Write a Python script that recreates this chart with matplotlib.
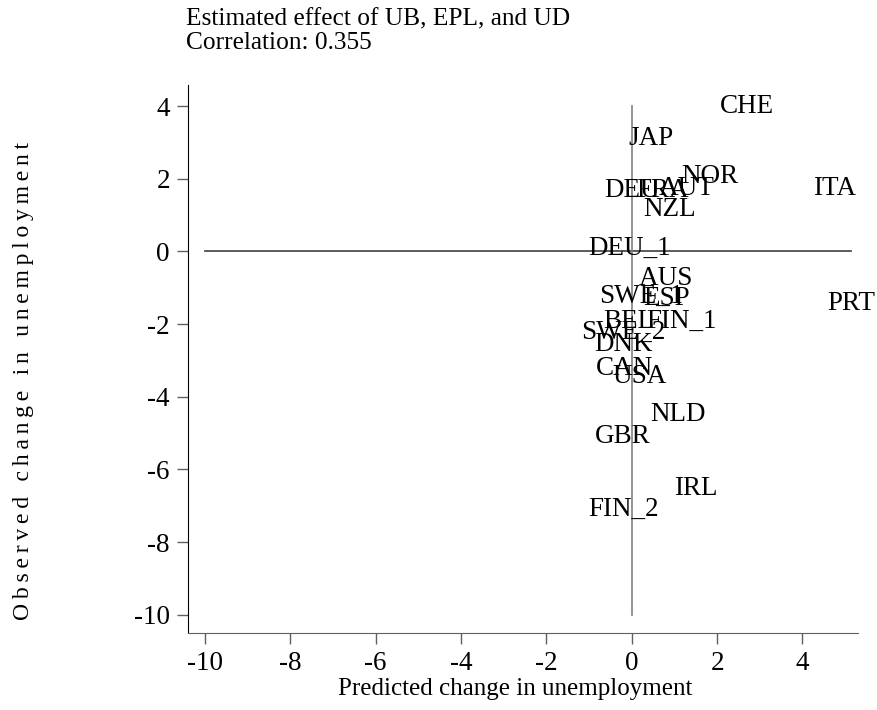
import numpy as np
import matplotlib.pyplot as plt

# ============================================
# DATOS
# ============================================
paises = ["CHE", "JAP", "NOR", "DEU", "FRA", "AUT", "ITA", "NZL", "DEU_1", "AUS",
          "SWE_1", "ESP", "PRT", "BEL", "FIN_1", "SWE_2", "DNK", "CAN", "USA",
          "NLD", "GBR", "IRL", "FIN_2"]
pred = [2.69, 0.46, 1.84, 0.0, 0.73, 1.28, 4.75, 0.89, -0.05, 0.81,
        0.22, 0.81, 5.15, -0.07, 1.17, -0.2, -0.2, -0.16, 0.19,
        1.08, -0.2, 1.5, -0.2]
obs = [4.0, 3.11, 2.05, 1.69, 1.69, 1.72, 1.74, 1.14, 0.085, -0.74,
       -1.25, -1.29, -1.43, -1.93, -1.93, -2.24, -2.57, -3.21, -3.45,
       -4.5, -5.1, -6.52, -7.11]

xticks = [-10, -8, -6, -4, -2, 0, 2, 4]
yticks = [-10, -8, -6, -4, -2, 0, 2, 4]

titulo = "Estimated effect of UB, EPL, and UD\nCorrelation: 0.355"
etiqueta_x = "Predicted change in unemployment"
etiqueta_y = "Observed change in unemployment"

# ============================================
# CONFIGURACIÓN
# ============================================
plt.rcParams['font.family'] = ['Liberation Serif', 'DejaVu Serif']
plt.rcParams['axes.unicode_minus'] = False

fig = plt.figure(figsize=(8.78, 7.10), dpi=100)
ax = fig.add_axes([0.2141, 0.1085, 0.763, 0.7718])

# líneas de referencia en cero
ax.plot([-10, max(pred)], [0, 0], color='#404040', linewidth=1.2)
ax.plot([0, 0], [-10, max(obs)], color='#808080', linewidth=1.2)

# etiquetas de los países
for p, x, y in zip(paises, pred, obs):
    ax.text(x, y, p, ha='center', va='center', fontsize=19.5, color='black')

ax.set_xlim(-10.4, 5.3)
ax.set_ylim(-10.5, 4.58)
ax.set_xticks(xticks)
ax.set_yticks(yticks)
ax.tick_params(axis='both', direction='out', length=8, width=1, color='#606060',
               labelsize=19.5, pad=5)

for s in ['top', 'right']:
    ax.spines[s].set_visible(False)
ax.spines['left'].set_color('black')
ax.spines['bottom'].set_color('#606060')

ax.set_xlabel(etiqueta_x, fontsize=18)
ax.xaxis.set_label_coords((515 - 188) / 670, -0.083)

# eje y con letras espaciadas
ax.set_ylabel("\u2009".join(etiqueta_y), fontsize=17)
ax.yaxis.set_label_coords((34 - 188) / 670, 0.46)

fig.text(0.212, 0.988, titulo, ha='left', va='top', fontsize=18.3, linespacing=1.1)

plt.savefig("out.png", dpi=100)
